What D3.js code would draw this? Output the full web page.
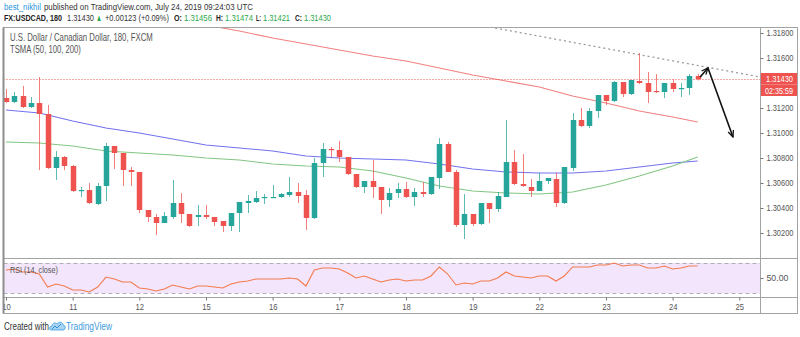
<!DOCTYPE html>
<html><head><meta charset="utf-8">
<script src="https://cdn.jsdelivr.net/npm/d3@7/dist/d3.min.js"></script>
<style>html,body{margin:0;padding:0;background:#fff;}svg{display:block;font-family:"Liberation Sans",Arial,sans-serif;}</style>
</head><body>
<svg id="chart" width="800" height="337"></svg>
<script>
// ---------- DATA (USDCAD, 180-minute bars, Jul 10 – Jul 24 2019) ----------
const opens  = [1.31280,1.31248,1.31296,1.31208,1.31240,1.31152,1.30720,1.30808,1.30736,1.30536,1.30544,1.30432,1.30576,1.30896,1.30840,1.30704,1.30688,1.30384,1.30328,1.30280,1.30328,1.30440,1.30352,1.30328,1.30344,1.30328,1.30296,1.30256,1.30360,1.30440,1.30448,1.30480,1.30480,1.30488,1.30504,1.30528,1.30504,1.30320,1.30760,1.30872,1.30864,1.30808,1.30672,1.30568,1.30616,1.30568,1.30464,1.30520,1.30552,1.30488,1.30528,1.30512,1.30640,1.30912,1.30688,1.30264,1.30352,1.30272,1.30440,1.30392,1.30488,1.30768,1.30592,1.30568,1.30536,1.30616,1.30632,1.30440,1.30720,1.31104,1.31056,1.31176,1.31304,1.31256,1.31408,1.31312,1.31416,1.31400,1.31336,1.31328,1.31400,1.31352,1.31360,1.31456];
const highs  = [1.31352,1.31328,1.31376,1.31288,1.31448,1.31224,1.30856,1.30816,1.30744,1.30568,1.30600,1.30600,1.30920,1.30896,1.30840,1.30728,1.30688,1.30384,1.30352,1.30368,1.30624,1.30520,1.30352,1.30424,1.30424,1.30328,1.30296,1.30360,1.30448,1.30504,1.30536,1.30512,1.30584,1.30520,1.30648,1.30600,1.30544,1.30800,1.30920,1.30888,1.30936,1.30808,1.30672,1.30616,1.30784,1.30568,1.30560,1.30600,1.30608,1.30560,1.30608,1.30648,1.30960,1.30928,1.30704,1.30512,1.30352,1.30440,1.30440,1.30528,1.31104,1.30864,1.30832,1.30632,1.30680,1.30640,1.30680,1.30728,1.31160,1.31200,1.31200,1.31304,1.31304,1.31416,1.31408,1.31424,1.31640,1.31488,1.31472,1.31400,1.31432,1.31400,1.31472,1.31474];
const lows   = [1.31240,1.31240,1.31200,1.31200,1.30704,1.30712,1.30624,1.30704,1.30528,1.30488,1.30432,1.30424,1.30456,1.30712,1.30576,1.30576,1.30360,1.30288,1.30184,1.30280,1.30312,1.30280,1.30248,1.30256,1.30312,1.30256,1.30208,1.30216,1.30208,1.30360,1.30440,1.30432,1.30480,1.30480,1.30488,1.30440,1.30224,1.30312,1.30648,1.30808,1.30768,1.30664,1.30560,1.30520,1.30480,1.30352,1.30408,1.30480,1.30480,1.30416,1.30488,1.30504,1.30552,1.30688,1.30248,1.30152,1.30256,1.30264,1.30280,1.30368,1.30488,1.30584,1.30568,1.30488,1.30536,1.30592,1.30408,1.30432,1.30696,1.31048,1.31040,1.31120,1.31224,1.31248,1.31288,1.31304,1.31392,1.31240,1.31320,1.31280,1.31328,1.31288,1.31304,1.31421];
const closes = [1.31248,1.31296,1.31208,1.31240,1.31152,1.30720,1.30808,1.30736,1.30536,1.30544,1.30440,1.30576,1.30896,1.30840,1.30704,1.30688,1.30384,1.30328,1.30280,1.30336,1.30440,1.30352,1.30256,1.30344,1.30328,1.30288,1.30256,1.30360,1.30448,1.30456,1.30480,1.30488,1.30488,1.30512,1.30528,1.30496,1.30320,1.30760,1.30872,1.30864,1.30808,1.30672,1.30568,1.30616,1.30568,1.30464,1.30520,1.30552,1.30488,1.30528,1.30512,1.30648,1.30912,1.30688,1.30264,1.30352,1.30272,1.30440,1.30392,1.30496,1.30768,1.30592,1.30576,1.30536,1.30616,1.30640,1.30440,1.30728,1.31104,1.31056,1.31176,1.31304,1.31256,1.31408,1.31312,1.31424,1.31400,1.31328,1.31328,1.31400,1.31352,1.31360,1.31456,1.31430];

const maBars   = [0,4,8,12,16,20,24,28,32,36,40,44,48,52,56,60,64,68,72,76,80,83];
const sma50    = [1.30928,1.30920,1.30896,1.30856,1.30840,1.30824,1.30800,1.30784,1.30752,1.30736,1.30728,1.30696,1.30640,1.30576,1.30536,1.30520,1.30512,1.30528,1.30584,1.30656,1.30736,1.30808];
const sma100   = [1.31184,1.31160,1.31096,1.31040,1.31000,1.30952,1.30904,1.30880,1.30856,1.30816,1.30800,1.30792,1.30784,1.30752,1.30712,1.30688,1.30680,1.30680,1.30696,1.30728,1.30760,1.30776];
const sma200Bars = [24,28,32,36,40,44,48,52,56,60,64,68,72,76,80,83];
const sma200   = [1.31864,1.31816,1.31760,1.31712,1.31664,1.31616,1.31576,1.31520,1.31464,1.31416,1.31368,1.31296,1.31240,1.31176,1.31128,1.31088];

const rsi = [60.7,62,58,58,55.3,38,42,39.3,34,34,31.3,38,51.3,48.7,44.7,44.7,36.7,35.3,32.7,35.3,40.7,38,35.3,39.3,39.3,38,36.7,42,44.7,46,48.7,48.7,48.7,48.7,50,48.7,39.3,60.7,63.3,63.3,62,56.7,50,52.7,48.7,44.7,47.3,48.7,46,47.3,47.3,52.7,64.7,55.3,40.7,43.3,42,46,46,50,58,52.7,51.3,50,52.7,52.7,46,52.7,64.7,64.7,64.7,67.3,67.3,70,66,67.3,67.3,63.3,63.3,66,62,63.3,66,66];

const dayBars   = [0,8,16,24,32,40,48,56,64,72,80,88];
const dayLabels = ["10","11","12","15","16","17","18","19","22","23","24","25"];
// 1.31400 is hidden behind the last-price label in the reference
const priceTicks = [1.302,1.304,1.306,1.308,1.310,1.312,1.316,1.318];
const rsiTicks = [50];
const rsiBand = [70,30];

// trend line drawing (bar index, price) and arrow drawing
const trendBars = [58.7, 90.5];
const trendPrices = [1.31840, 1.31448];
const arrowBars = [83.3, 84.24, 87.24];
const arrowPrices = [1.31448, 1.31520, 1.30968];

const countdown = "02:35:59";

// ---------- LAYOUT ----------
const svg = d3.select('#chart');
const paneL = 3.5, paneR = 760.5, paneT = 27.5, mainB = 258.5, rsiB = 297.5, axisB = 313.5, frameR = 797.5;
const UP = '#26a69a', DOWN = '#ef5350';

const x = d3.scaleLinear().domain([0, 88]).range([6, 739.3]);
const y = d3.scaleLinear().domain([1.300, 1.316]).range([258, 58]);
const yr = d3.scaleLinear().domain([30, 70]).range([293, 263]);

// text of a given width without textLength: shrink the font to fit, then stretch back vertically
function fitText(parent, str, tx, ty, w, size, attrs) {
  const g = parent.append('g').attr('transform', `translate(${tx},${ty})`);
  const t = g.append('text').attr('font-size', size).text(str);
  Object.keys(attrs || {}).forEach(k => t.attr(k, attrs[k]));
  const L = t.node().getComputedTextLength();
  const f = w / L;
  t.attr('font-size', size * f);
  g.attr('transform', `translate(${tx},${ty}) scale(1,${1/f})`);
  return t;
}
function fitAxisText(sel, w, size, yBase) {
  sel.each(function(){
    const t = d3.select(this).attr('font-size', size);
    const L = this.getComputedTextLength();
    const f = (typeof w === 'function' ? w(L) : w) / L;
    t.attr('font-size', size * f).attr('transform', `scale(1,${1/f})`);
    if (yBase !== undefined) t.attr('y', yBase * f);
  });
}

const defs = svg.append('defs');
defs.append('clipPath').attr('id','clipMain').append('rect')
  .attr('x', paneL+0.5).attr('y', paneT+0.5).attr('width', paneR-paneL-1).attr('height', mainB-paneT-1);
defs.append('clipPath').attr('id','clipRsi').append('rect')
  .attr('x', paneL+0.5).attr('y', mainB+0.5).attr('width', paneR-paneL-1).attr('height', rsiB-mainB-1);
defs.append('marker').attr('id','ah').attr('viewBox','0 0 10 10').attr('refX',9).attr('refY',5)
  .attr('markerUnits','userSpaceOnUse').attr('markerWidth',8).attr('markerHeight',8).attr('orient','auto')
  .append('path').attr('d','M1,1.5 L9,5 L1,8.5').attr('fill','none').attr('stroke','#111').attr('stroke-width',1.6);

// ---------- HEADER ----------
const hdr = svg.append('g');
fitText(hdr, 'best_nikhil', 4, 10, 37, 9.5, {fill:'#2b95e0'});
fitText(hdr, 'published on TradingView.com, July 24, 2019 09:24:03 UTC', 44, 10, 209, 9.5, {fill:'#333'});

const GREEN = '#2aa84a';
const h2pieces = [
  {t:'FX:USDCAD, 180', x:4, w:58, c:'#222', b:true},
  {t:'1.31430', x:67, w:27, c:'#333'},
  {t:'\u25B2', x:96, w:6, c:GREEN},
  {t:'+0.00123 (+0.09%)', x:105, w:64, c:'#333'},
  {t:'O:', x:174, w:8, c:'#222', b:true},
  {t:'1.31456', x:184, w:28, c:GREEN},
  {t:'H:', x:216, w:7, c:'#222', b:true},
  {t:'1.31474', x:225, w:28, c:GREEN},
  {t:'L:', x:256, w:5, c:'#222', b:true},
  {t:'1.31421', x:263, w:27, c:GREEN},
  {t:'C:', x:295, w:7, c:'#222', b:true},
  {t:'1.31430', x:304, w:27, c:GREEN}
];
h2pieces.forEach(p => fitText(hdr, p.t, p.x, 21, p.w, 9.5, {fill:p.c, 'font-weight': p.b ? 'bold' : 'normal'}));

// ---------- FRAME ----------
const frame = svg.append('g').attr('fill','none').attr('stroke','#a3a3a3').attr('stroke-width',1);
frame.append('rect').attr('x',paneL).attr('y',paneT).attr('width',frameR-paneL).attr('height',axisB-paneT);
frame.append('line').attr('x1',paneR).attr('x2',paneR).attr('y1',paneT).attr('y2',axisB);
frame.append('line').attr('x1',paneL).attr('x2',frameR).attr('y1',mainB).attr('y2',mainB);
frame.append('line').attr('x1',paneL).attr('x2',frameR).attr('y1',rsiB).attr('y2',rsiB);

// ---------- MAIN PANE ----------
const main = svg.append('g').attr('clip-path','url(#clipMain)');

const maLine = bars => d3.line().x((d,k) => x(bars[k])).y(d => y(d));
main.append('path').attr('d', maLine(sma200Bars)(sma200)).attr('fill','none').attr('stroke','#f28080').attr('stroke-width',1.1);
main.append('path').attr('d', maLine(maBars)(sma100)).attr('fill','none').attr('stroke','#7272ee').attr('stroke-width',1.1);
main.append('path').attr('d', maLine(maBars)(sma50)).attr('fill','none').attr('stroke','#83c683').attr('stroke-width',1.1);

const last = closes[closes.length-1];
main.append('line').attr('x1',paneL).attr('x2',paneR).attr('y1',Math.round(y(last))+0.5).attr('y2',Math.round(y(last))+0.5)
  .attr('stroke','#ef5350').attr('stroke-width',1).attr('stroke-dasharray','1,2');

main.append('path').attr('d', d3.line().x((d,k)=>x(trendBars[k])).y(d=>y(d))(trendPrices))
  .attr('fill','none').attr('stroke','#9a9a9a').attr('stroke-width',1.3).attr('stroke-dasharray','2,3');

const idx = d3.range(opens.length);
const col = i => closes[i] >= opens[i] ? UP : DOWN;
const bw = 5.5;
main.selectAll('line.wick').data(idx).join('line').attr('class','wick')
  .attr('x1', i => Math.round(x(i))+0.5).attr('x2', i => Math.round(x(i))+0.5)
  .attr('y1', i => y(highs[i])).attr('y2', i => y(lows[i]))
  .attr('stroke', col).attr('stroke-opacity', 0.75).attr('stroke-width', 1);
main.selectAll('rect.body').data(idx).join('rect').attr('class','body')
  .attr('x', i => Math.round(x(i))+0.5-bw/2).attr('width', bw)
  .attr('y', i => Math.min(y(opens[i]), y(closes[i])))
  .attr('height', i => Math.max(1.2, Math.abs(y(opens[i]) - y(closes[i]))))
  .attr('fill', col);

const ag = svg.append('g').attr('clip-path','url(#clipMain)');
for (let k = 0; k < arrowBars.length-1; k++) {
  ag.append('line').attr('x1', x(arrowBars[k])).attr('y1', y(arrowPrices[k]))
    .attr('x2', x(arrowBars[k+1])).attr('y2', y(arrowPrices[k+1]))
    .attr('stroke','#111').attr('stroke-width',1.6).attr('marker-end','url(#ah)');
}

// legend
fitText(svg, 'U.S. Dollar / Canadian Dollar, 180, FXCM', 10, 40.5, 143, 10, {fill:'#555'});
fitText(svg, 'TSMA (50, 100, 200)', 10, 52.5, 71, 10, {fill:'#555'});

// price axis
const pAxis = svg.append('g').attr('transform', `translate(${paneR},0)`)
  .call(d3.axisRight(y).tickValues(priceTicks).tickFormat(d => d.toFixed(5)).tickSize(3).tickPadding(3));
pAxis.select('.domain').remove();
pAxis.selectAll('line').attr('stroke','#777');
pAxis.selectAll('text').attr('fill','#555').attr('font-family','"Liberation Sans",Arial,sans-serif');
fitAxisText(pAxis.selectAll('text'), 27, 9);

// price label
const ly = Math.round(y(last));
svg.append('rect').attr('x', paneR+0.5).attr('y', ly-6).attr('width', frameR-paneR-1).attr('height', 23).attr('fill','#ef5350');
svg.append('line').attr('x1',paneR+0.5).attr('x2',frameR-0.5).attr('y1',ly+5.5).attr('y2',ly+5.5).attr('stroke','#f47c7a').attr('stroke-width',1);
fitText(svg, last.toFixed(5), 766, ly+3, 27, 8.5, {fill:'#fff'});
fitText(svg, countdown, 765, ly+14.5, 28, 8.5, {fill:'#fff'});

// ---------- RSI PANE ----------
const rp = svg.append('g').attr('clip-path','url(#clipRsi)');
rp.append('rect').attr('x', paneL).attr('width', paneR-paneL)
  .attr('y', yr(rsiBand[0])).attr('height', yr(rsiBand[1]) - yr(rsiBand[0])).attr('fill','#f3e6fc');
rp.selectAll('line.band').data(rsiBand).join('line').attr('class','band')
  .attr('x1', paneL).attr('x2', paneR).attr('y1', d => Math.round(yr(d))+0.5).attr('y2', d => Math.round(yr(d))+0.5)
  .attr('stroke','#b3abb8').attr('stroke-dasharray','4,3');
rp.append('path').attr('d', d3.line().x((d,i) => x(i)).y(d => yr(d))(rsi))
  .attr('fill','none').attr('stroke','#f47a4c').attr('stroke-width',1.1);
fitText(svg, 'RSI (14, close)', 10, 272.5, 48, 10, {fill:'#555'});

const rAxis = svg.append('g').attr('transform', `translate(${paneR},0)`)
  .call(d3.axisRight(yr).tickValues(rsiTicks).tickFormat(d => d.toFixed(2)).tickSize(3).tickPadding(3));
rAxis.select('.domain').remove();
rAxis.selectAll('line').attr('stroke','#777');
rAxis.selectAll('text').attr('fill','#555').attr('font-family','"Liberation Sans",Arial,sans-serif');
fitAxisText(rAxis.selectAll('text'), 22, 9);

// ---------- TIME AXIS ----------
const tAxis = svg.append('g').attr('transform', `translate(0,${rsiB})`)
  .call(d3.axisBottom(x).tickValues(dayBars).tickFormat((d,i) => dayLabels[i]).tickSize(3).tickPadding(3));
tAxis.select('.domain').remove();
tAxis.selectAll('line').attr('stroke','#777');
tAxis.selectAll('text').attr('fill','#555').attr('font-family','"Liberation Sans",Arial,sans-serif');
fitAxisText(tAxis.selectAll('text'), L => L * 0.85, 9, 6);

// left edge of the frame drawn over the cut first day label
svg.append('rect').attr('x',0).attr('y',rsiB+1).attr('width',paneL-0.5).attr('height',axisB-rsiB-1.5).attr('fill','#fff');
svg.append('line').attr('x1',paneL).attr('x2',paneL).attr('y1',paneT).attr('y2',axisB).attr('stroke','#8d8d8d').attr('stroke-width',2);

// ---------- FOOTER ----------
fitText(svg, 'Created with', 4, 329.5, 45, 10, {fill:'#333'});
const logo = svg.append('g');
logo.append('path').attr('d','M51,330 C49,330 49,326 52,326 C52,323 56,322 57,324 C59,321 63,322 63,325 C66,325 66,330 63,330 Z')
  .attr('fill','#a9d3f2').attr('stroke','#3d9ce0').attr('stroke-width',0.8);
logo.append('path').attr('d','M52,329 L55,326 L57,328 L61,324').attr('fill','none').attr('stroke','#2b8fd9').attr('stroke-width',1);
fitText(svg, 'TradingView', 66, 329.5, 46, 10, {fill:'#3d9ce0'});
</script>
</body></html>
